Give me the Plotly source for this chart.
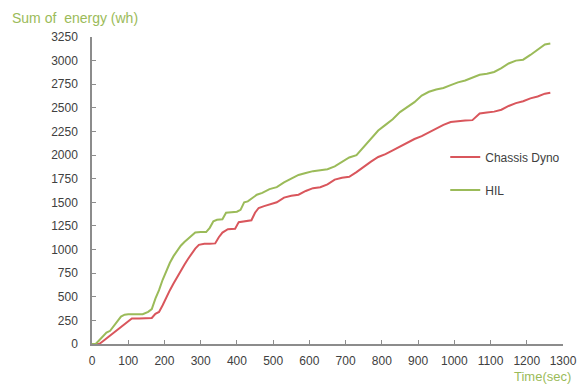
import plotly.graph_objects as go

# ---- data ----
hil_t = [0, 10, 20, 30, 40, 50, 60, 70, 80, 90, 100, 120, 140, 155, 165, 175, 185, 195, 205, 215,
         225, 235, 245, 255, 265, 275, 285, 300, 315, 325, 335, 345, 360, 370, 380, 400, 410, 420,
         430, 440, 455, 470, 490, 510, 530, 550, 570, 590, 610, 630, 650, 670, 690, 710, 730, 750,
         770, 790, 810, 830, 850, 870, 890, 910, 930, 950, 970, 990, 1010, 1030, 1050, 1070, 1090,
         1110, 1130, 1150, 1170, 1190, 1210, 1230, 1250, 1265]
hil_v = [0, 0, 40, 80, 120, 140, 190, 230, 290, 310, 315, 315, 315, 340, 370, 480, 570, 680, 780, 860,
         930, 990, 1040, 1080, 1110, 1150, 1180, 1185, 1185, 1230, 1300, 1315, 1320, 1390, 1395, 1400,
         1420, 1500, 1510, 1540, 1580, 1600, 1640, 1660, 1710, 1750, 1790, 1810, 1830, 1840, 1850, 1880,
         1930, 1975, 2000, 2090, 2170, 2260, 2320, 2380, 2455, 2510, 2560, 2630, 2670, 2695, 2710, 2740,
         2770, 2790, 2820, 2850, 2860, 2880, 2920, 2970, 3000, 3010, 3060, 3120, 3170, 3180]

dyno_t = [0, 20, 30, 40, 50, 60, 70, 80, 90, 100, 110, 130, 150, 165, 175, 185, 195, 205, 215, 225,
          235, 245, 255, 265, 275, 285, 295, 310, 325, 340, 350, 360, 375, 395, 405, 420, 440, 450,
          460, 475, 490, 510, 530, 550, 570, 590, 610, 630, 650, 670, 690, 710, 730, 750, 770, 790,
          810, 830, 850, 870, 890, 910, 930, 950, 970, 990, 1010, 1030, 1050, 1070, 1090, 1110, 1130,
          1150, 1170, 1190, 1210, 1230, 1250, 1265]
dyno_v = [0, 0, 30, 60, 95, 120, 150, 180, 210, 240, 270, 270, 270, 275, 320, 340, 410, 500, 570, 640,
          710, 780, 840, 900, 960, 1010, 1050, 1060, 1060, 1065, 1130, 1180, 1215, 1220, 1290, 1300,
          1310, 1390, 1440, 1460, 1480, 1500, 1550, 1570, 1580, 1620, 1650, 1660, 1690, 1740, 1760,
          1770, 1820, 1880, 1930, 1980, 2010, 2050, 2090, 2130, 2170, 2200, 2240, 2280, 2320, 2350,
          2360, 2365, 2370, 2440, 2450, 2460, 2480, 2520, 2550, 2570, 2600, 2620, 2650, 2660]

x_ticks = list(range(0, 1301, 100))
y_ticks = list(range(0, 3251, 250))

RED = "#d9565c"
GREEN = "#9bbb59"
TXT = "#404040"
FONT = "Liberation Sans"

fig = go.Figure()
fig.add_trace(go.Scatter(x=dyno_t, y=dyno_v, mode="lines", name="Chassis Dyno",
                         line=dict(color=RED, width=2), legendgroup="a"))
fig.add_trace(go.Scatter(x=hil_t, y=hil_v, mode="lines", name="HIL",
                         line=dict(color=GREEN, width=2), legendgroup="b"))

fig.update_layout(
    width=577, height=385,
    margin=dict(l=92, r=14, t=37, b=41, autoexpand=False),
    paper_bgcolor="white", plot_bgcolor="white",
    font=dict(family=FONT, size=12, color=TXT),
    showlegend=True,
    legend=dict(x=0.75, y=0.656, xanchor="left", yanchor="top",
                bgcolor="rgba(0,0,0,0)", itemwidth=30, tracegroupgap=14,
                font=dict(family=FONT, size=12, color=TXT)),
    xaxis=dict(range=[0, 1300], tickvals=x_ticks, ticktext=[str(v) for v in x_ticks],
               showgrid=False, zeroline=False, showline=True, linecolor="#8c8c8c", linewidth=1.5,
               ticks="inside", ticklen=4, tickcolor="#8c8c8c", ticklabelstandoff=5),
    yaxis=dict(range=[0, 3250], tickvals=y_ticks, ticktext=[str(v) for v in y_ticks],
               showgrid=False, zeroline=False, showline=True, linecolor="#8c8c8c", linewidth=1.5,
               ticks="inside", ticklen=4, tickcolor="#8c8c8c", ticklabelstandoff=10),
    annotations=[
        dict(text="Sum of  energy (wh)", xref="paper", yref="paper", x=-0.175, y=1.03,
             xanchor="left", yanchor="bottom", showarrow=False,
             font=dict(family=FONT, size=14, color=GREEN)),
        dict(text="Time(sec)", xref="paper", yref="paper", x=1.022, y=-0.075,
             xanchor="right", yanchor="top", showarrow=False,
             font=dict(family=FONT, size=13, color=GREEN)),
    ],
)

fig.write_html("out.html")
